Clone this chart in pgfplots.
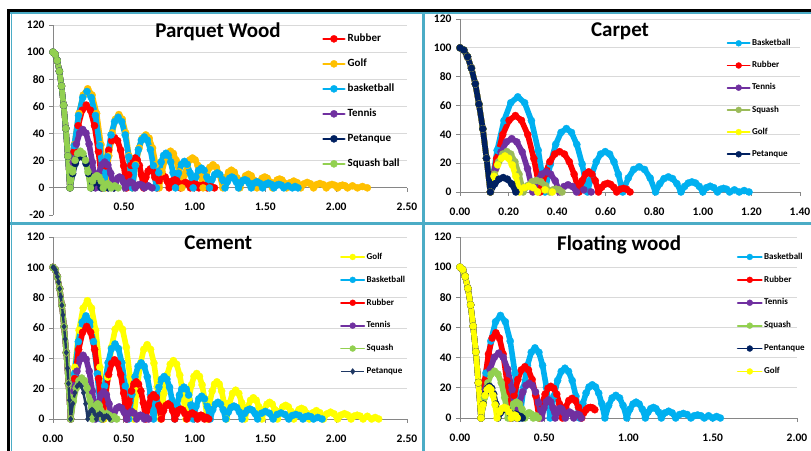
\documentclass[border=0pt]{standalone}
\usepackage{pgfplots}
\pgfplotsset{compat=1.18}
\usepackage{fontspec}
\setmainfont{Carlito}
\definecolor{cred}{HTML}{FF0000}
\definecolor{cgold}{HTML}{FFC000}
\definecolor{cblue}{HTML}{00B0F0}
\definecolor{cpurple}{HTML}{7030A0}
\definecolor{cnavy}{HTML}{002060}
\definecolor{cgreen}{HTML}{92D050}
\definecolor{colive}{HTML}{9BBB59}
\definecolor{cyellow}{HTML}{FFFF00}
\definecolor{cnavyb}{HTML}{1F3864}
\definecolor{frameblue}{HTML}{4BACC6}
\definecolor{axgray}{HTML}{868686}
\definecolor{gridgray}{HTML}{D9D9D9}
\pgfplotsset{
  ballax/.style={
    scale only axis, anchor=south west, clip=false,
    axis y line*=left,
    axis line style={axgray,line width=0.8bp},
    tick style={axgray,line width=0.8bp},
    tick align=outside, major tick length=4bp,
    ymajorgrids, grid style={gridgray,line width=0.8bp},
    xmin=0, ymax=120, ytick={0,20,40,60,80,100,120},
    yticklabels={0,20,40,60,80,100,120},
    tick label style={font=\fontsize{11.5bp}{13bp}\selectfont\bfseries},
    xticklabel style={yshift=-8bp},
    yticklabel style={xshift=-1bp},
    title style={font=\fontsize{21bp}{24bp}\selectfont\bfseries, anchor=center},
    legend cell align=left,
  },
  bs/.style={color=#1, line width=5.6bp, line join=round, line cap=round, mark=*, mark size=3.6bp, mark options={line width=0.3bp, solid, fill=#1}},
  smalllegend/.style={
    legend image code/.code={\draw[mark repeat=2,mark phase=2,line width=1.8bp,mark size=3bp] plot coordinates {(0bp,0bp)(#1,0bp)(2*#1,0bp)};},
  },
}
\begin{document}
\begin{tikzpicture}
\path[use as bounding box] (0,0) rectangle (811bp,451bp);
\fill[white] (0,0) rectangle (811bp,451bp);
\draw[black,line width=3bp] (7bp,440.5bp) -- (811bp,440.5bp);
\draw[black,line width=3bp] (8.5bp,0bp) -- (8.5bp,442bp);
\draw[frameblue,line width=1.5bp] (10bp,437.8bp) -- (811bp,437.8bp);
\draw[frameblue,line width=1.5bp] (11.5bp,0bp) -- (11.5bp,438bp);
\draw[frameblue,line width=3bp] (423.7bp,0bp) -- (423.7bp,438bp);
\draw[frameblue,line width=3bp] (10bp,227.3bp) -- (811bp,227.3bp);

% ---------------- Parquet Wood ----------------
\begin{axis}[ballax, at={(53bp,236bp)}, width=354bp, height=190bp,
  xmax=2.5, ymin=-20, axis x line*=middle,
  xtick={0,0.5,1,1.5,2,2.5}, xticklabels={0.00,0.50,1.00,1.50,2.00,2.50},
  extra y ticks={-20}, extra y tick labels={-20}, extra y tick style={grid=none},
  title={Parquet Wood}, title style={at={(0.466,0.934)}},
  legend style={at={(0.76,0.965)}, anchor=north west, draw=none, fill=none, inner xsep=0pt, inner ysep=0pt, row sep=11bp,
    nodes={inner sep=2bp, text height=8bp, text depth=2bp}, font=\fontsize{11bp}{13bp}\selectfont\bfseries},
  legend image code/.code={\draw[mark repeat=2,mark phase=2,line width=2.4bp] plot coordinates {(0bp,0bp)(10.5bp,0bp)(21bp,0bp)};},
  legend entries={Rubber,Golf,basketball,Tennis,Petanque,Squash ball},
]
\addplot[bs=cred] coordinates {(0,100)(0.015,98.4)(0.03,93.8)(0.045,85.9)(0.06,75)(0.075,60.9)(0.09,43.8)(0.105,23.4)(0.12,0)
(0.149,26.7)(0.178,45.8)(0.206,57.2)(0.235,61)(0.264,57.2)(0.293,45.8)(0.321,26.7)(0.35,0)
(0.371,16.2)(0.393,27.8)(0.414,34.7)(0.435,37)(0.456,34.7)(0.478,27.8)(0.499,16.2)(0.52,0)
(0.535,9.6)(0.55,16.5)(0.565,20.6)(0.58,22)(0.595,20.6)(0.61,16.5)(0.625,9.6)(0.64,0)
(0.656,7.8)(0.672,12.4)(0.688,14)(0.703,12.4)(0.719,7.8)(0.735,0)
(0.749,5)(0.763,8)(0.778,9)(0.792,8)(0.806,5)(0.82,0)
(0.833,3.3)(0.847,5.3)(0.86,6)(0.873,5.3)(0.887,3.3)(0.9,0)
(0.918,3)(0.935,4)(0.953,3)(0.97,0)
(0.985,2.3)(1,3)(1.015,2.3)(1.03,0)
(1.045,1.5)(1.06,2)(1.075,1.5)(1.09,0)
(1.115,1)(1.14,0)};
\addplot[bs=cgold] coordinates {(0,100)(0.015,98.4)(0.03,93.8)(0.045,85.9)(0.06,75)(0.075,60.9)(0.09,43.8)(0.105,23.4)(0.12,0)
(0.151,31.9)(0.183,54.8)(0.214,68.4)(0.245,73)(0.276,68.4)(0.308,54.8)(0.339,31.9)(0.37,0)
(0.394,23.6)(0.418,40.5)(0.441,50.6)(0.465,54)(0.489,50.6)(0.513,40.5)(0.536,23.6)(0.56,0)
(0.584,17.1)(0.608,29.3)(0.631,36.6)(0.655,39)(0.679,36.6)(0.703,29.3)(0.726,17.1)(0.75,0)
(0.77,11.8)(0.79,20.3)(0.81,25.3)(0.83,27)(0.85,25.3)(0.87,20.3)(0.89,11.8)(0.91,0)
(0.929,9.6)(0.948,16.5)(0.966,20.6)(0.985,22)(1.004,20.6)(1.023,16.5)(1.041,9.6)(1.06,0)
(1.083,9.4)(1.107,15.1)(1.13,17)(1.153,15.1)(1.177,9.4)(1.2,0)
(1.22,7.2)(1.24,11.6)(1.26,13)(1.28,11.6)(1.3,7.2)(1.32,0)
(1.34,5.6)(1.36,8.9)(1.38,10)(1.4,8.9)(1.42,5.6)(1.44,0)
(1.458,4.4)(1.477,7.1)(1.495,8)(1.513,7.1)(1.532,4.4)(1.55,0)
(1.567,3.6)(1.583,5.8)(1.6,6.5)(1.617,5.8)(1.633,3.6)(1.65,0)
(1.675,3.8)(1.7,5)(1.725,3.8)(1.75,0)
(1.773,3)(1.795,4)(1.818,3)(1.84,0)
(1.863,2.4)(1.885,3.2)(1.908,2.4)(1.93,0)
(1.95,1.9)(1.97,2.5)(1.99,1.9)(2.01,0)
(2.028,1.5)(2.045,2)(2.063,1.5)(2.08,0)
(2.115,1.5)(2.15,0)
(2.185,1)(2.22,0)};
\addplot[bs=cblue] coordinates {(0,100)(0.015,98.4)(0.03,93.8)(0.045,85.9)(0.06,75)(0.075,60.9)(0.09,43.8)(0.105,23.4)(0.12,0)
(0.15,31.1)(0.18,53.3)(0.21,66.6)(0.24,71)(0.27,66.6)(0.3,53.3)(0.33,31.1)(0.36,0)
(0.385,22.8)(0.41,39)(0.435,48.8)(0.46,52)(0.485,48.8)(0.51,39)(0.535,22.8)(0.56,0)
(0.581,16.4)(0.603,28.1)(0.624,35.2)(0.645,37.5)(0.666,35.2)(0.688,28.1)(0.709,16.4)(0.73,0)
(0.747,11.2)(0.764,19.1)(0.781,23.9)(0.798,25.5)(0.814,23.9)(0.831,19.1)(0.848,11.2)(0.865,0)
(0.886,10.8)(0.907,17.3)(0.928,19.5)(0.948,17.3)(0.969,10.8)(0.99,0)
(1.009,8.1)(1.028,12.9)(1.048,14.5)(1.067,12.9)(1.086,8.1)(1.105,0)
(1.123,6.1)(1.142,9.8)(1.16,11)(1.178,9.8)(1.197,6.1)(1.215,0)
(1.231,4.4)(1.247,7.1)(1.263,8)(1.278,7.1)(1.294,4.4)(1.31,0)
(1.325,3.3)(1.34,5.3)(1.355,6)(1.37,5.3)(1.385,3.3)(1.4,0)
(1.42,3.4)(1.44,4.5)(1.46,3.4)(1.48,0)
(1.5,2.6)(1.52,3.5)(1.54,2.6)(1.56,0)
(1.578,1.9)(1.595,2.5)(1.613,1.9)(1.63,0)
(1.66,1.5)(1.69,0)
(1.71,1)(1.73,0)};
\addplot[bs=cpurple] coordinates {(0,100)(0.015,98.4)(0.03,93.8)(0.045,85.9)(0.06,75)(0.075,60.9)(0.09,43.8)(0.105,23.4)(0.12,0)
(0.143,18.8)(0.165,32.3)(0.188,40.3)(0.21,43)(0.233,40.3)(0.255,32.3)(0.278,18.8)(0.3,0)
(0.322,10.6)(0.343,16.9)(0.365,19)(0.387,16.9)(0.408,10.6)(0.43,0)
(0.443,4.4)(0.457,7.1)(0.47,8)(0.483,7.1)(0.497,4.4)(0.51,0)
(0.528,3.4)(0.545,4.5)(0.563,3.4)(0.58,0)
(0.596,1.9)(0.613,2.5)(0.629,1.9)(0.645,0)
(0.673,1.5)(0.7,0)};
\addplot[bs=cnavy] coordinates {(0,100)(0.015,98.4)(0.03,93.8)(0.045,85.9)(0.06,75)(0.075,60.9)(0.09,43.8)(0.105,23.4)(0.12,0)
(0.139,10.5)(0.158,18)(0.176,22.5)(0.195,24)(0.214,22.5)(0.233,18)(0.251,10.5)(0.27,0)
(0.282,3.3)(0.293,5.3)(0.305,6)(0.317,5.3)(0.328,3.3)(0.34,0)
(0.353,1.9)(0.365,2.5)(0.378,1.9)(0.39,0)
(0.41,1)(0.43,0)};
\addplot[bs=cgreen] coordinates {(0,100)(0.015,98.4)(0.03,93.8)(0.045,85.9)(0.06,75)(0.075,60.9)(0.09,43.8)(0.105,23.4)(0.12,0)
(0.138,11.8)(0.156,20.3)(0.174,25.3)(0.193,27)(0.211,25.3)(0.229,20.3)(0.247,11.8)(0.265,0)
(0.28,5)(0.295,8)(0.31,9)(0.325,8)(0.34,5)(0.355,0)
(0.369,2.3)(0.383,3)(0.396,2.3)(0.41,0)
(0.435,1.5)(0.46,0)};
\end{axis}

% ---------------- Carpet ----------------
\begin{axis}[ballax, at={(460bp,259bp)}, width=340bp, height=173bp,
  xmax=1.4, ymin=0, axis x line*=bottom,
  xtick={0,0.2,0.4,0.6,0.8,1,1.2,1.4}, xticklabels={0.00,0.20,0.40,0.60,0.80,1.00,1.20,1.40},
  title={Carpet}, title style={at={(0.4706,0.893)}},
  legend style={at={(0.784,0.894)}, anchor=north west, draw=none, fill=none, inner xsep=0pt, inner ysep=0pt, row sep=10.7bp,
    nodes={inner sep=1.5bp, text height=6.5bp, text depth=2bp}, font=\fontsize{9bp}{10bp}\selectfont\bfseries},
  smalllegend=11bp,
  legend entries={Basketball,Rubber,Tennis,Squash,Golf,Petanque},
]
\addplot[bs=cblue] coordinates {(0,100)(0.016,98.4)(0.031,93.8)(0.047,85.9)(0.063,75)(0.078,60.9)(0.094,43.8)(0.109,23.4)(0.125,0)
(0.153,28.9)(0.181,49.5)(0.209,61.9)(0.238,66)(0.266,61.9)(0.294,49.5)(0.322,28.9)(0.35,0)
(0.372,19.3)(0.394,33)(0.416,41.3)(0.438,44)(0.459,41.3)(0.481,33)(0.503,19.3)(0.525,0)
(0.543,12.3)(0.561,21)(0.579,26.3)(0.598,28)(0.616,26.3)(0.634,21)(0.652,12.3)(0.67,0)
(0.693,9.7)(0.715,15.6)(0.738,17.5)(0.76,15.6)(0.783,9.7)(0.805,0)
(0.823,5.8)(0.84,9.3)(0.858,10.5)(0.875,9.3)(0.893,5.8)(0.91,0)
(0.925,3.9)(0.94,6.2)(0.955,7)(0.97,6.2)(0.985,3.9)(1,0)
(1.015,3)(1.03,4)(1.045,3)(1.06,0)
(1.073,1.9)(1.085,2.5)(1.098,1.9)(1.11,0)
(1.13,1.5)(1.15,0)
(1.17,1)(1.19,0)};
\addplot[bs=cred] coordinates {(0,100)(0.016,98.4)(0.031,93.8)(0.047,85.9)(0.063,75)(0.078,60.9)(0.094,43.8)(0.109,23.4)(0.125,0)
(0.151,23.2)(0.176,39.8)(0.202,49.7)(0.228,53)(0.253,49.7)(0.279,39.8)(0.304,23.2)(0.33,0)
(0.35,12.3)(0.37,21)(0.39,26.3)(0.41,28)(0.43,26.3)(0.45,21)(0.47,12.3)(0.49,0)
(0.503,7.8)(0.517,12.4)(0.53,14)(0.543,12.4)(0.557,7.8)(0.57,0)
(0.583,3.3)(0.595,5.3)(0.608,6)(0.62,5.3)(0.633,3.3)(0.645,0)
(0.659,1.9)(0.673,2.5)(0.686,1.9)(0.7,0)};
\addplot[bs=cpurple] coordinates {(0,100)(0.016,98.4)(0.031,93.8)(0.047,85.9)(0.063,75)(0.078,60.9)(0.094,43.8)(0.109,23.4)(0.125,0)
(0.147,16.2)(0.169,27.8)(0.191,34.7)(0.213,37)(0.234,34.7)(0.256,27.8)(0.278,16.2)(0.3,0)
(0.318,7.8)(0.337,12.4)(0.355,14)(0.373,12.4)(0.392,7.8)(0.41,0)
(0.428,3.8)(0.445,5)(0.463,3.8)(0.48,0)
(0.51,1.5)(0.54,0)};
\addplot[bs=colive] coordinates {(0,100)(0.016,98.4)(0.031,93.8)(0.047,85.9)(0.063,75)(0.078,60.9)(0.094,43.8)(0.109,23.4)(0.125,0)
(0.142,12.3)(0.159,21)(0.176,26.3)(0.193,28)(0.209,26.3)(0.226,21)(0.243,12.3)(0.26,0)
(0.278,4.4)(0.297,7.1)(0.315,8)(0.333,7.1)(0.352,4.4)(0.37,0)
(0.383,1.5)(0.395,2)(0.408,1.5)(0.42,0)};
\addplot[bs=cyellow] coordinates {(0,100)(0.016,98.4)(0.031,93.8)(0.047,85.9)(0.063,75)(0.078,60.9)(0.094,43.8)(0.109,23.4)(0.125,0)
(0.14,10.9)(0.155,18.8)(0.17,23.4)(0.185,25)(0.2,23.4)(0.215,18.8)(0.23,10.9)(0.245,0)
(0.264,3)(0.283,4)(0.301,3)(0.32,0)
(0.35,1.5)(0.38,0)};
\addplot[bs=cnavy] coordinates {(0,100)(0.016,98.4)(0.031,93.8)(0.047,85.9)(0.063,75)(0.078,60.9)(0.094,43.8)(0.109,23.4)(0.125,0)
(0.143,5.6)(0.16,8.9)(0.178,10)(0.195,8.9)(0.213,5.6)(0.23,0)};
\end{axis}

% ---------------- Cement ----------------
\begin{axis}[ballax, at={(53bp,32bp)}, width=354bp, height=182bp,
  xmax=2.5, ymin=0, axis x line*=bottom,
  xtick={0,0.5,1,1.5,2,2.5}, xticklabels={0.00,0.50,1.00,1.50,2.00,2.50},
  title={Cement}, title style={at={(0.467,0.9346)}},
  legend style={at={(0.8107,0.923)}, anchor=north west, draw=none, fill=none, inner xsep=0pt, inner ysep=0pt, row sep=11.4bp,
    nodes={inner sep=1.5bp, text height=6.5bp, text depth=2bp}, font=\fontsize{9bp}{10bp}\selectfont\bfseries},
  smalllegend=11.6bp,
  legend entries={Golf,Basketball,Rubber,Tennis,Squash,Petanque},
]
\addplot[bs=cyellow] coordinates {(0,100)(0.016,98.4)(0.031,93.8)(0.047,85.9)(0.063,75)(0.078,60.9)(0.094,43.8)(0.109,23.4)(0.125,0)
(0.154,34.1)(0.184,58.5)(0.213,73.1)(0.243,78)(0.272,73.1)(0.301,58.5)(0.331,34.1)(0.36,0)
(0.386,27.6)(0.413,47.3)(0.439,59.1)(0.465,63)(0.491,59.1)(0.518,47.3)(0.544,27.6)(0.57,0)
(0.594,21.4)(0.618,36.8)(0.641,45.9)(0.665,49)(0.689,45.9)(0.713,36.8)(0.736,21.4)(0.76,0)
(0.783,16.8)(0.805,28.9)(0.828,36.1)(0.85,38.5)(0.873,36.1)(0.895,28.9)(0.918,16.8)(0.94,0)
(0.959,13.1)(0.978,22.5)(0.996,28.1)(1.015,30)(1.034,28.1)(1.053,22.5)(1.071,13.1)(1.09,0)
(1.107,10.7)(1.124,18.4)(1.141,23)(1.158,24.5)(1.174,23)(1.191,18.4)(1.208,10.7)(1.225,0)
(1.247,10.6)(1.268,16.9)(1.29,19)(1.312,16.9)(1.333,10.6)(1.355,0)
(1.375,7.8)(1.395,12.4)(1.415,14)(1.435,12.4)(1.455,7.8)(1.475,0)
(1.493,6.1)(1.512,9.8)(1.53,11)(1.548,9.8)(1.567,6.1)(1.585,0)
(1.604,5)(1.623,8)(1.643,9)(1.662,8)(1.681,5)(1.7,0)
(1.718,3.9)(1.737,6.2)(1.755,7)(1.773,6.2)(1.792,3.9)(1.81,0)
(1.835,4.1)(1.86,5.5)(1.885,4.1)(1.91,0)
(1.935,3.4)(1.96,4.5)(1.985,3.4)(2.01,0)
(2.034,2.6)(2.058,3.5)(2.081,2.6)(2.105,0)
(2.126,1.9)(2.148,2.5)(2.169,1.9)(2.19,0)
(2.22,1.8)(2.25,0)
(2.275,1)(2.3,0)};
\addplot[bs=cblue] coordinates {(0,100)(0.016,98.4)(0.031,93.8)(0.047,85.9)(0.063,75)(0.078,60.9)(0.094,43.8)(0.109,23.4)(0.125,0)
(0.152,29.8)(0.179,51)(0.206,63.8)(0.233,68)(0.259,63.8)(0.286,51)(0.313,29.8)(0.34,0)
(0.364,21.7)(0.389,37.1)(0.413,46.4)(0.438,49.5)(0.462,46.4)(0.486,37.1)(0.511,21.7)(0.535,0)
(0.557,16.2)(0.579,27.8)(0.601,34.7)(0.623,37)(0.644,34.7)(0.666,27.8)(0.688,16.2)(0.71,0)
(0.729,12.3)(0.748,21)(0.766,26.3)(0.785,28)(0.804,26.3)(0.823,21)(0.841,12.3)(0.86,0)
(0.876,9.2)(0.893,15.8)(0.909,19.7)(0.925,21)(0.941,19.7)(0.958,15.8)(0.974,9.2)(0.99,0)
(1.01,8.3)(1.03,13.3)(1.05,15)(1.07,13.3)(1.09,8.3)(1.11,0)
(1.128,6.1)(1.147,9.8)(1.165,11)(1.183,9.8)(1.202,6.1)(1.22,0)
(1.239,4.7)(1.258,7.6)(1.278,8.5)(1.297,7.6)(1.316,4.7)(1.335,0)
(1.353,3.6)(1.372,5.8)(1.39,6.5)(1.408,5.8)(1.427,3.6)(1.445,0)
(1.473,3.8)(1.5,5)(1.528,3.8)(1.555,0)
(1.583,3)(1.61,4)(1.638,3)(1.665,0)
(1.69,2.3)(1.715,3)(1.74,2.3)(1.765,0)
(1.784,1.5)(1.803,2)(1.821,1.5)(1.84,0)
(1.87,1)(1.9,0)};
\addplot[bs=cred] coordinates {(0,100)(0.016,98.4)(0.031,93.8)(0.047,85.9)(0.063,75)(0.078,60.9)(0.094,43.8)(0.109,23.4)(0.125,0)
(0.153,26.7)(0.181,45.8)(0.209,57.2)(0.238,61)(0.266,57.2)(0.294,45.8)(0.322,26.7)(0.35,0)
(0.371,17.1)(0.393,29.3)(0.414,36.6)(0.435,39)(0.456,36.6)(0.478,29.3)(0.499,17.1)(0.52,0)
(0.537,10.7)(0.554,18.4)(0.571,23)(0.588,24.5)(0.604,23)(0.621,18.4)(0.638,10.7)(0.655,0)
(0.673,8.9)(0.692,14.2)(0.71,16)(0.728,14.2)(0.747,8.9)(0.765,0)
(0.781,5.6)(0.797,8.9)(0.813,10)(0.828,8.9)(0.844,5.6)(0.86,0)
(0.874,3.6)(0.888,5.8)(0.903,6.5)(0.917,5.8)(0.931,3.6)(0.945,0)
(0.964,3)(0.983,4)(1.001,3)(1.02,0)
(1.033,1.9)(1.045,2.5)(1.058,1.9)(1.07,0)
(1.085,1)(1.1,0)};
\addplot[bs=cpurple] coordinates {(0,100)(0.016,98.4)(0.031,93.8)(0.047,85.9)(0.063,75)(0.078,60.9)(0.094,43.8)(0.109,23.4)(0.125,0)
(0.147,18.4)(0.169,31.5)(0.191,39.4)(0.213,42)(0.234,39.4)(0.256,31.5)(0.278,18.4)(0.3,0)
(0.319,10)(0.338,16)(0.358,18)(0.377,16)(0.396,10)(0.415,0)
(0.433,4.4)(0.45,7.1)(0.468,8)(0.485,7.1)(0.503,4.4)(0.52,0)
(0.538,3.8)(0.555,5)(0.573,3.8)(0.59,0)
(0.604,1.9)(0.618,2.5)(0.631,1.9)(0.645,0)
(0.66,1)(0.675,0)};
\addplot[bs=cgreen] coordinates {(0,100)(0.016,98.4)(0.031,93.8)(0.047,85.9)(0.063,75)(0.078,60.9)(0.094,43.8)(0.109,23.4)(0.125,0)
(0.144,11.8)(0.164,20.3)(0.183,25.3)(0.203,27)(0.222,25.3)(0.241,20.3)(0.261,11.8)(0.28,0)
(0.292,5.6)(0.303,8.9)(0.315,10)(0.327,8.9)(0.338,5.6)(0.35,0)
(0.365,2.6)(0.38,3.5)(0.395,2.6)(0.41,0)
(0.43,1.5)(0.45,0)};
\addplot[color=cnavyb, line width=2.4bp, line join=round, mark=diamond*, mark size=3bp, mark options={line width=0.3bp, solid, fill=cnavyb}] coordinates {(0,100)(0.008,99.6)(0.016,98.4)(0.023,96.5)(0.031,93.8)(0.039,90.3)(0.047,85.9)(0.055,80.6)(0.063,75)(0.07,68.6)(0.078,60.9)(0.086,52.7)(0.094,43.8)(0.102,33.4)(0.109,23.4)(0.117,12.4)(0.125,0)
(0.14,10.1)(0.155,17.3)(0.17,21.6)(0.185,23)(0.2,21.6)(0.215,17.3)(0.23,10.1)(0.245,0)
(0.255,3.3)(0.265,5.3)(0.275,6)(0.285,5.3)(0.295,3.3)(0.305,0)
(0.318,2.6)(0.33,3.5)(0.343,2.6)(0.355,0)
(0.366,1.5)(0.378,2)(0.389,1.5)(0.4,0)};
\end{axis}

% ---------------- Floating wood ----------------
\begin{axis}[ballax, at={(460bp,33bp)}, width=337bp, height=181bp,
  xmax=2, ymin=0, axis x line*=bottom,
  xtick={0,0.5,1,1.5,2}, xticklabels={0.00,0.50,1.00,1.50,2.00},
  title={Floating wood}, title style={at={(0.472,0.925)}},
  legend style={at={(0.821,0.9227)}, anchor=north west, draw=none, fill=none, inner xsep=0pt, inner ysep=0pt, row sep=11.4bp,
    nodes={inner sep=1.5bp, text height=6.5bp, text depth=2bp}, font=\fontsize{9bp}{10bp}\selectfont\bfseries},
  smalllegend=12bp,
  legend entries={Basketball,Rubber,Tennis,Squash,Pentanque,Golf},
]
\addplot[bs=cblue] coordinates {(0,100)(0.016,98.4)(0.031,93.8)(0.047,85.9)(0.063,75)(0.078,60.9)(0.094,43.8)(0.109,23.4)(0.125,0)
(0.154,29.8)(0.183,51)(0.211,63.8)(0.24,68)(0.269,63.8)(0.298,51)(0.326,29.8)(0.355,0)
(0.378,20.3)(0.4,34.9)(0.423,43.6)(0.445,46.5)(0.468,43.6)(0.49,34.9)(0.513,20.3)(0.535,0)
(0.557,14.4)(0.579,24.8)(0.601,30.9)(0.623,33)(0.644,30.9)(0.666,24.8)(0.688,14.4)(0.71,0)
(0.729,9.6)(0.748,16.5)(0.766,20.6)(0.785,22)(0.804,20.6)(0.823,16.5)(0.841,9.6)(0.86,0)
(0.882,8.3)(0.903,13.3)(0.925,15)(0.947,13.3)(0.968,8.3)(0.99,0)
(1.008,5.8)(1.027,9.3)(1.045,10.5)(1.063,9.3)(1.082,5.8)(1.1,0)
(1.116,3.9)(1.132,6.2)(1.148,7)(1.163,6.2)(1.179,3.9)(1.195,0)
(1.216,3.4)(1.238,4.5)(1.259,3.4)(1.28,0)
(1.303,2.3)(1.325,3)(1.348,2.3)(1.37,0)
(1.39,1.5)(1.41,2)(1.43,1.5)(1.45,0)
(1.475,1.5)(1.5,0)
(1.523,1)(1.545,0)};
\addplot[bs=cred] coordinates {(0,100)(0.016,98.4)(0.031,93.8)(0.047,85.9)(0.063,75)(0.078,60.9)(0.094,43.8)(0.109,23.4)(0.125,0)
(0.147,24.7)(0.169,42.4)(0.191,53)(0.213,56.5)(0.234,53)(0.256,42.4)(0.278,24.7)(0.3,0)
(0.321,14.9)(0.343,25.5)(0.364,31.9)(0.385,34)(0.406,31.9)(0.428,25.5)(0.449,14.9)(0.47,0)
(0.487,9.2)(0.505,15.8)(0.522,19.7)(0.539,21)(0.556,19.7)(0.574,15.8)(0.591,9.2)(0.608,0)
(0.627,7.2)(0.646,11.6)(0.665,13)(0.684,11.6)(0.703,7.2)(0.722,0)
(0.735,3.5)(0.748,5.5)(0.761,6.7)(0.774,7)(0.787,6.7)(0.8,5.5)};
\addplot[bs=cpurple] coordinates {(0,100)(0.016,98.4)(0.031,93.8)(0.047,85.9)(0.063,75)(0.078,60.9)(0.094,43.8)(0.109,23.4)(0.125,0)
(0.151,18.8)(0.178,32.3)(0.204,40.3)(0.23,43)(0.256,40.3)(0.283,32.3)(0.309,18.8)(0.335,0)
(0.354,10.1)(0.373,17.3)(0.391,21.6)(0.41,23)(0.429,21.6)(0.448,17.3)(0.466,10.1)(0.485,0)
(0.498,6.7)(0.512,10.7)(0.525,12)(0.538,10.7)(0.552,6.7)(0.565,0)
(0.575,3.6)(0.585,5.8)(0.595,6.5)(0.605,5.8)(0.615,3.6)(0.625,0)
(0.638,3)(0.65,4)(0.663,3)(0.675,0)
(0.686,1.9)(0.698,2.5)(0.709,1.9)(0.72,0)};
\addplot[bs=cgreen] coordinates {(0,100)(0.016,98.4)(0.031,93.8)(0.047,85.9)(0.063,75)(0.078,60.9)(0.094,43.8)(0.109,23.4)(0.125,0)
(0.145,13.6)(0.165,23.3)(0.185,29.1)(0.205,31)(0.225,29.1)(0.245,23.3)(0.265,13.6)(0.285,0)
(0.302,5.8)(0.318,9.3)(0.335,10.5)(0.352,9.3)(0.368,5.8)(0.385,0)
(0.398,2.6)(0.41,3.5)(0.423,2.6)(0.435,0)
(0.45,1.5)(0.465,0)};
\addplot[bs=cnavy] coordinates {(0,100)(0.016,98.4)(0.031,93.8)(0.047,85.9)(0.063,75)(0.078,60.9)(0.094,43.8)(0.109,23.4)(0.125,0)
(0.138,9.2)(0.15,15.8)(0.163,19.7)(0.175,21)(0.188,19.7)(0.2,15.8)(0.213,9.2)(0.225,0)
(0.239,3.3)(0.253,5.3)(0.268,6)(0.282,5.3)(0.296,3.3)(0.31,0)
(0.32,1.9)(0.33,2.5)(0.34,1.9)(0.35,0)
(0.36,1)(0.37,0)};
\addplot[bs=cyellow] coordinates {(0,100)(0.016,98.4)(0.031,93.8)(0.047,85.9)(0.063,75)(0.078,60.9)(0.094,43.8)(0.109,23.4)(0.125,0)
(0.137,8.8)(0.149,15)(0.161,18.8)(0.173,20)(0.184,18.8)(0.196,15)(0.208,8.8)(0.22,0)
(0.234,3.9)(0.248,6.2)(0.263,7)(0.277,6.2)(0.291,3.9)(0.305,0)
(0.314,1.5)(0.323,2)(0.331,1.5)(0.34,0)};
\end{axis}
\end{tikzpicture}
\end{document}
